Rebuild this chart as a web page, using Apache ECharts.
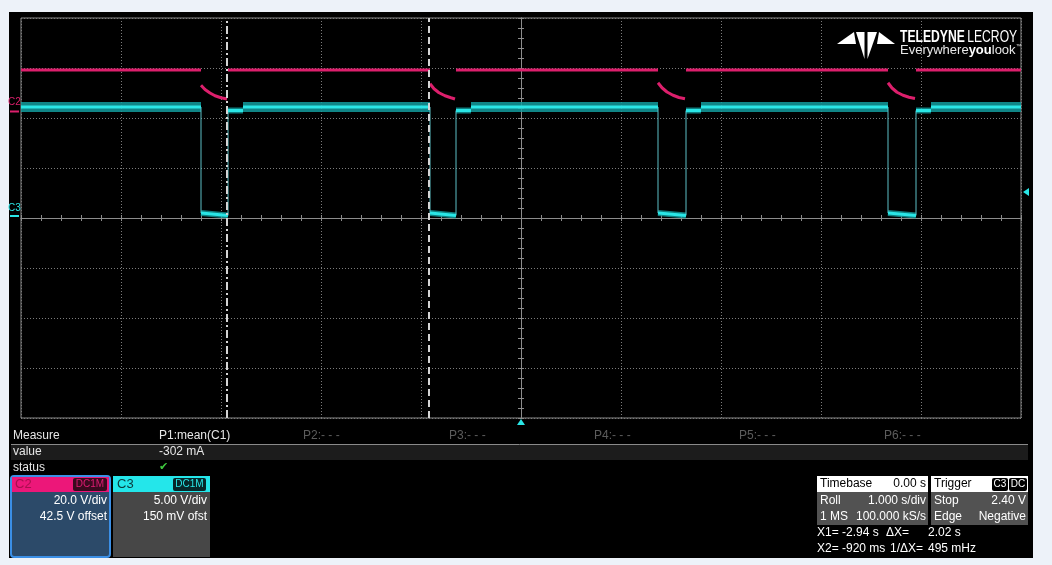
<!DOCTYPE html>
<html><head><meta charset="utf-8">
<script src="https://cdn.jsdelivr.net/npm/echarts@6/dist/echarts.min.js"></script>
<style>
html,body{margin:0;padding:0;background:#edf2f9;width:1052px;height:565px;overflow:hidden;}
#panel{position:absolute;left:9px;top:12px;width:1024px;height:546px;background:#000;}
#chart{position:absolute;left:0;top:0;width:1052px;height:565px;}
</style></head><body>
<div id="panel"></div><div id="chart"></div>
<script>
// ---- scope settings ----
const timeMin = -5, timeMax = 5;           // s (1.000 s/div, 10 div)
const c2VoltsPerDiv = 20.0, c2Offset = 42.5; // V
const c3VoltsPerDiv = 5.00, c3Offset = 0.15; // V
// ---- C3 (cyan) square wave ----
const c3FallTimes   = [-3.20, -0.91, 1.37, 3.67];   // s
const c3RiseTimes   = [-2.93, -0.65, 1.65, 3.95];   // s
const c3SettleEnds  = [-2.78, -0.50, 1.80, 4.10];   // s
const c3HighVolts = 10.95, c3SettleVolts = 10.6, c3LowStartVolts = 0.35, c3LowEndVolts = 0.1;
// ---- C2 (magenta) ----
const c2HighVolts = 16.7;
const c2DecayTimes = [
  [-3.20, -3.16, -3.11, -3.06, -3.00, -2.94],
  [-0.91, -0.87, -0.82, -0.76, -0.70, -0.66],
  [ 1.37,  1.41,  1.46,  1.52,  1.58,  1.64],
  [ 3.67,  3.71,  3.76,  3.82,  3.88,  3.94]
];
const c2DecayVolts = [
  [10.6, 8.9, 7.5, 6.4, 5.6, 5.1],
  [11.2, 9.2, 7.6, 6.4, 5.6, 5.1],
  [11.6, 9.6, 7.9, 6.6, 5.7, 5.2],
  [11.6, 9.5, 7.8, 6.6, 5.8, 5.3]
];
// ---- cursors ----
const cursorTimes = [-2.94, -0.92];
// ---- readouts ----
const measureLabels = ['P1:mean(C1)', 'P2:- - -', 'P3:- - -', 'P4:- - -', 'P5:- - -', 'P6:- - -'];
const measureValue = '-302 mA';

// helpers to build line data with breaks
function seg(out, t0, t1, v0, v1) { out.push([t0, v0], [t1, v1], [t1, null]); }

const c3HighData = [], c3LowData = [], c3SettleData = [], c3EdgeData = [], c2Data = [];
seg(c3HighData, timeMin, c3FallTimes[0], c3HighVolts, c3HighVolts);
for (let i = 0; i < c3FallTimes.length; i++) {
  seg(c3LowData, c3FallTimes[i], c3RiseTimes[i], c3LowStartVolts, c3LowEndVolts);
  seg(c3SettleData, c3RiseTimes[i], c3SettleEnds[i], c3SettleVolts, c3SettleVolts);
  const nextFall = i + 1 < c3FallTimes.length ? c3FallTimes[i + 1] : timeMax;
  seg(c3HighData, c3SettleEnds[i], nextFall, c3HighVolts, c3HighVolts);
  seg(c3EdgeData, c3FallTimes[i], c3FallTimes[i], c3HighVolts, c3LowStartVolts);
  seg(c3EdgeData, c3RiseTimes[i], c3RiseTimes[i], c3LowEndVolts, c3SettleVolts);
}
seg(c2Data, timeMin, c3FallTimes[0], c2HighVolts, c2HighVolts);
for (let i = 0; i < c2DecayTimes.length; i++) {
  c2DecayTimes[i].forEach((t, k) => c2Data.push([t, c2DecayVolts[i][k]]));
  c2Data.push([c2DecayTimes[i][c2DecayTimes[i].length - 1], null]);
  const nextFall = i + 1 < c3FallTimes.length ? c3FallTimes[i + 1] : timeMax;
  seg(c2Data, c3RiseTimes[i], nextFall, c2HighVolts, c2HighVolts);
}

const F = 'Liberation Sans, Arial, sans-serif';
const gridColor = '#7c7c7c';
const MAG = '#dc1f6c', CYAN = '#2ae6e6', BAND = '#139c9e';

function txt(x, y, text, fill, opts) {
  opts = opts || {};
  return { type: 'text', x: x, y: y, z: 50, silent: true,
    scaleX: opts.scaleX || 1,
    style: { text: text, fill: fill, font: opts.font || ('12px ' + F),
      textAlign: opts.align || 'left', textVerticalAlign: 'middle', rich: opts.rich } };
}
function rect(x, y, w, h, fill, extra) {
  const e = { type: 'rect', z: 40, silent: true, shape: { x: x, y: y, width: w, height: h, r: (extra && extra.r) || 0 },
    style: { fill: fill } };
  if (extra && extra.stroke) { e.style.stroke = extra.stroke; e.style.lineWidth = extra.lw || 1; }
  return e;
}
function poly(points, fill) { return { type: 'polygon', z: 40, silent: true, shape: { points: points }, style: { fill: fill } }; }
function line(x1, y1, x2, y2, stroke, w) { return { type: 'line', z: 40, silent: true, shape: { x1: x1, y1: y1, x2: x2, y2: y2 }, style: { stroke: stroke, lineWidth: w || 1 } }; }

const graphics = [
  // channel ground markers
  txt(8, 102, 'C2', MAG, { font: '10px ' + F }),
  line(10, 111.5, 19, 111.5, MAG, 2),
  txt(8, 208, 'C3', CYAN, { font: '10px ' + F }),
  line(10, 216, 19, 216, CYAN, 2),
  // trigger markers
  poly([[1023, 192], [1029, 188], [1029, 196]], CYAN),
  poly([[521, 419], [517, 425], [525, 425]], CYAN),
  // logo
  poly([[837, 44], [854, 32], [856, 44]], '#fff'),
  poly([[856, 32], [864.5, 32], [864.5, 59]], '#fff'),
  poly([[867.5, 32], [877, 32], [867.5, 59]], '#fff'),
  poly([[895, 44], [879, 32], [877, 44]], '#fff'),
  txt(900, 37, '{b|TELEDYNE} {r|LECROY}', '#fff', { scaleX: 0.715,
    rich: { b: { font: 'bold 17px ' + F, fill: '#fff' }, r: { font: '17px ' + F, fill: '#fff' } } }),
  txt(900, 50, '{r|Everywhere}{b|you}{r|look}{t|™}', '#fff', {
    rich: { r: { font: '13px ' + F, fill: '#e8e8e8' }, b: { font: 'bold 13px ' + F, fill: '#fff' }, t: { font: '6px ' + F, fill: '#ddd', verticalAlign: 'top' } } }),
  // measure table
  rect(11, 445, 1017, 15, '#1c1c1c'),
  line(11, 444.5, 1028, 444.5, '#8a8a8a', 1),
  txt(13, 436, 'Measure', '#e6e6e6'),
  txt(13, 452, 'value', '#e6e6e6'),
  txt(13, 468, 'status', '#e6e6e6'),
  txt(159, 452, measureValue, '#e6e6e6'),
  txt(159, 467, '✔', '#3ec83e', { font: '11px DejaVu Sans' }),
  // C2 box
  rect(11, 476, 99, 81, '#2c4a69', { stroke: '#3b8fe6', lw: 2, r: 3 }),
  rect(12, 477, 97, 15, '#ec1779'),
  txt(15, 484.5, 'C2', '#a80f4e', { font: '13px ' + F }),
  rect(73, 478, 34, 13, '#3a0a1f', { r: 2 }),
  txt(90, 484.5, 'DC1M', '#e01c74', { font: '10px ' + F, align: 'center' }),
  txt(107, 501, '20.0 V/div', '#fff', { align: 'right' }),
  txt(107, 517, '42.5 V offset', '#fff', { align: 'right' }),
  // C3 box
  rect(113, 476, 97, 81, '#474747'),
  rect(113, 476, 97, 16, '#24e6ea'),
  txt(117, 484.5, 'C3', '#0b3a3c', { font: '13px ' + F }),
  rect(173, 478, 33, 13, '#07282a', { r: 2 }),
  txt(189.5, 484.5, 'DC1M', CYAN, { font: '10px ' + F, align: 'center' }),
  txt(207, 501, '5.00 V/div', '#fff', { align: 'right' }),
  txt(207, 517, '150 mV ofst', '#fff', { align: 'right' }),
  // Timebase box
  rect(817, 476, 111, 16, '#ffffff'),
  rect(817, 492, 111, 33, '#525252'),
  txt(820, 484, 'Timebase', '#000'),
  txt(926, 484, '0.00 s', '#000', { align: 'right' }),
  txt(820, 501, 'Roll', '#fff'),
  txt(926, 501, '1.000 s/div', '#fff', { align: 'right' }),
  txt(820, 517, '1 MS', '#fff'),
  txt(926, 517, '100.000 kS/s', '#fff', { align: 'right' }),
  // Trigger box
  rect(931, 476, 97, 16, '#ffffff'),
  rect(931, 492, 97, 33, '#525252'),
  txt(934, 484, 'Trigger', '#000'),
  rect(992, 478, 16, 13, '#000', { r: 2 }),
  txt(1000, 484.5, 'C3', '#fff', { font: '10px ' + F, align: 'center' }),
  rect(1009, 478, 18, 13, '#000', { r: 2 }),
  txt(1018, 484.5, 'DC', '#fff', { font: '10px ' + F, align: 'center' }),
  txt(934, 501, 'Stop', '#fff'),
  txt(1026, 501, '2.40 V', '#fff', { align: 'right' }),
  txt(934, 517, 'Edge', '#fff'),
  txt(1026, 517, 'Negative', '#fff', { align: 'right' }),
  // cursor readouts
  txt(817, 533, 'X1= -2.94 s', '#fff'),
  txt(886, 533, 'ΔX=', '#fff'),
  txt(928, 533, '2.02 s', '#fff'),
  txt(817, 549, 'X2= -920 ms', '#fff'),
  txt(890, 549, '1/ΔX=', '#fff'),
  txt(928, 549, '495 mHz', '#fff')
];
const measureX = [159, 303, 449, 594, 739, 884];
measureLabels.forEach((l, i) => graphics.push(txt(measureX[i], 436, l, i === 0 ? '#e6e6e6' : '#5c5c5c')));

const hidden = { axisLine: { show: false }, axisTick: { show: false }, axisLabel: { show: false }, splitLine: { show: false } };
function centerAxis(min, max, pos, inside) {
  return { type: 'value', min: min, max: max, interval: 0.2, position: pos,
    axisLine: { show: true, onZero: true, onZeroAxisIndex: 0, lineStyle: { color: '#8c8c8c', width: 1 } },
    axisTick: { show: true, inside: inside, length: 3, lineStyle: { color: '#8c8c8c' } },
    axisLabel: { show: false }, splitLine: { show: false } };
}

const option = {
  animation: false,
  backgroundColor: 'transparent',
  grid: { left: 21, top: 18, width: 1000, height: 400, show: true, borderColor: '#8a8a8a', borderWidth: 1, backgroundColor: 'transparent', outerBoundsMode: 'none' },
  xAxis: [
    Object.assign({}, hidden, { type: 'value', min: timeMin, max: timeMax, interval: 1,
      splitLine: { show: true, lineStyle: { color: gridColor, type: [1, 2], width: 1 } } }),
    centerAxis(timeMin, timeMax, 'bottom', true),
    centerAxis(timeMin, timeMax, 'bottom', false)
  ],
  yAxis: [
    Object.assign({}, hidden, { type: 'value', min: -4, max: 4, interval: 1,
      splitLine: { show: true, lineStyle: { color: gridColor, type: [1, 2], width: 1 } } }),
    Object.assign({}, hidden, { type: 'value', min: -4 * c2VoltsPerDiv - c2Offset, max: 4 * c2VoltsPerDiv - c2Offset, show: false }),
    Object.assign({}, hidden, { type: 'value', min: -4 * c3VoltsPerDiv - c3Offset, max: 4 * c3VoltsPerDiv - c3Offset, show: false }),
    centerAxis(-4, 4, 'left', true),
    centerAxis(-4, 4, 'left', false)
  ],
  graphic: { elements: graphics },
  series: [
    { name: 'C2', type: 'line', xAxisIndex: 0, yAxisIndex: 1, data: c2Data, showSymbol: false, symbol: 'none',
      connectNulls: false, z: 3, lineStyle: { color: MAG, width: 3 } },
    { name: 'C3 noise', type: 'line', xAxisIndex: 0, yAxisIndex: 2, data: c3HighData, symbol: 'none',
      z: 2, lineStyle: { color: BAND, width: 10, opacity: 0.85 } },
    { name: 'C3 low noise', type: 'line', xAxisIndex: 0, yAxisIndex: 2, data: c3LowData.concat(c3SettleData), symbol: 'none',
      z: 2, lineStyle: { color: BAND, width: 6, opacity: 0.8 } },
    { name: 'C3 edges', type: 'line', xAxisIndex: 0, yAxisIndex: 2, data: c3EdgeData, symbol: 'none',
      z: 3, lineStyle: { color: '#5cbfc6', width: 1 } },
    { name: 'C3', type: 'line', xAxisIndex: 0, yAxisIndex: 2, data: c3HighData.concat(c3LowData, c3SettleData), symbol: 'none',
      z: 4, lineStyle: { color: CYAN, width: 3 } },
    { name: 'cursors', type: 'line', xAxisIndex: 0, yAxisIndex: 0, data: [], z: 6,
      markLine: { silent: true, symbol: 'none', label: { show: false }, animation: false,
        data: [
          { xAxis: cursorTimes[0], lineStyle: { color: '#d4d4d4', width: 2, type: [8, 3, 2, 3] } },
          { xAxis: cursorTimes[1], lineStyle: { color: '#d4d4d4', width: 2, type: [7, 4] } }
        ] } }
  ]
};
const chart = echarts.init(document.getElementById('chart'), null, { renderer: 'canvas' });
chart.setOption(option);
</script></body></html>
